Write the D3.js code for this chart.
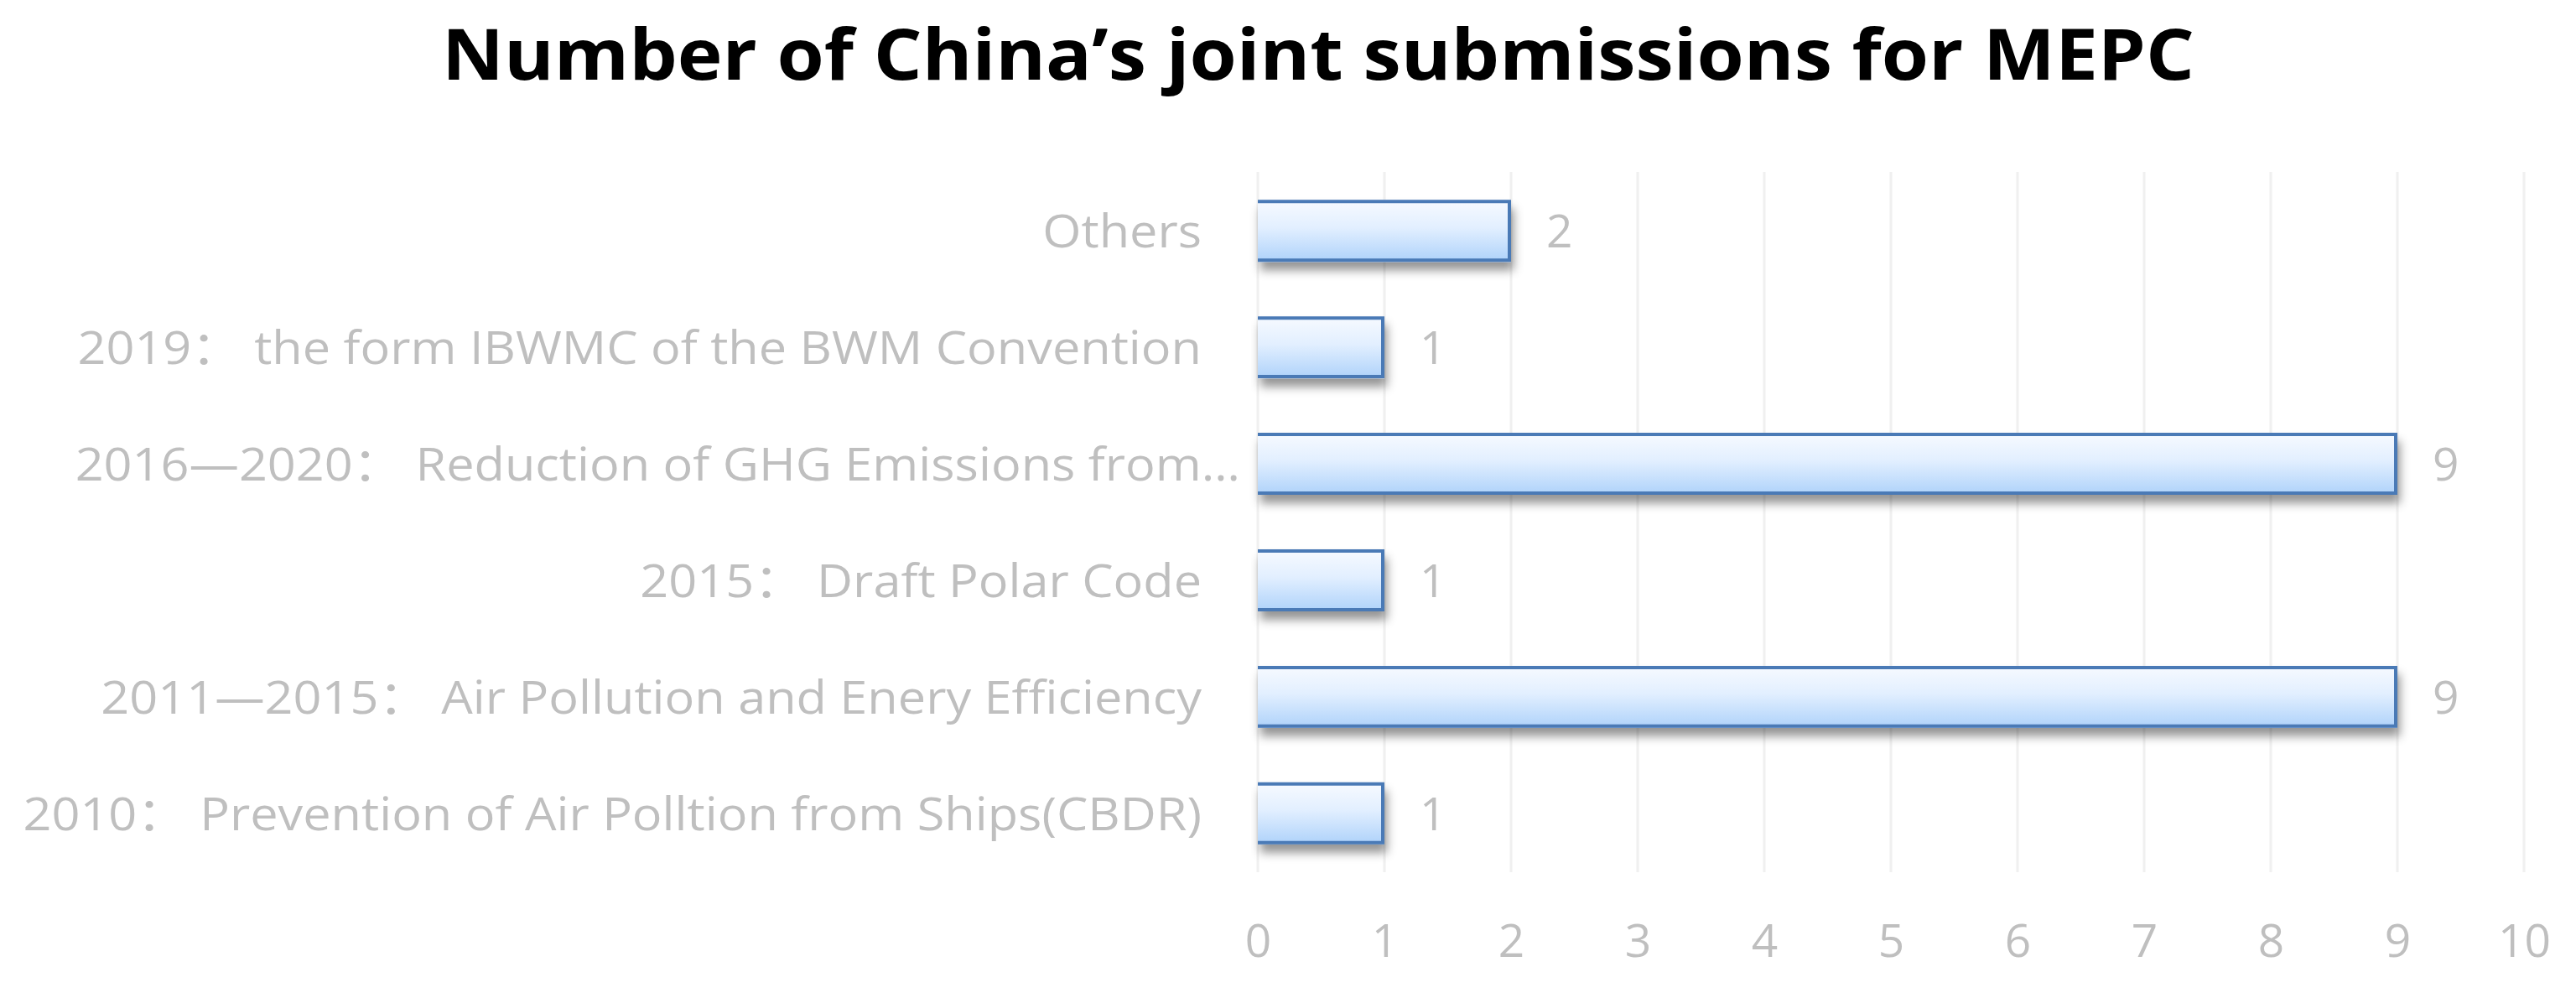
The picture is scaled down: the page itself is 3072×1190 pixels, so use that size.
<!DOCTYPE html>
<html><head><meta charset="utf-8">
<script src="https://cdn.jsdelivr.net/npm/d3@7/dist/d3.min.js"></script>
<style>body{margin:0;background:#fff;} svg{display:block}</style>
</head><body>
<script>
const title = "Number of China’s joint submissions for MEPC";
const categories = [
  "Others",
  "2019： the form IBWMC of the BWM Convention",
  "2016—2020： Reduction of GHG Emissions from…",
  "2015： Draft Polar Code",
  "2011—2015： Air Pollution and Enery Efficiency",
  "2010： Prevention of Air Polltion from Ships(CBDR)"
];
const values = [2, 1, 9, 1, 9, 1];
const tickValues = [0, 1, 2, 3, 4, 5, 6, 7, 8, 9, 10];

const W = 3072, H = 1190;
const plot = {left: 1500, right: 3010, top: 205, bottom: 1040};
const fontFamily = "'Open Sans', 'Noto Sans CJK SC', sans-serif";
const textGray = "#bfbfbf";
const labelStretch = 1.08;

const svg = d3.select("body").append("svg").attr("width", W).attr("height", H);

const defs = svg.append("defs");
const grad = defs.append("linearGradient").attr("id", "barGrad")
  .attr("x1", 0).attr("y1", 0).attr("x2", 0).attr("y2", 1);
grad.append("stop").attr("offset", "0%").attr("stop-color", "#f7faff");
grad.append("stop").attr("offset", "45%").attr("stop-color", "#e2efff");
grad.append("stop").attr("offset", "100%").attr("stop-color", "#aed2fa");
const filt = defs.append("filter").attr("id", "shadow")
  .attr("x", "-5%").attr("y", "-30%").attr("width", "115%").attr("height", "190%");
filt.append("feDropShadow").attr("dx", 3).attr("dy", 10).attr("stdDeviation", 6)
  .attr("flood-color", "#000").attr("flood-opacity", 0.42);

const x = d3.scaleLinear().domain([0, 10]).range([plot.left, plot.right]);
const y = d3.scaleBand().domain(categories).range([plot.top, plot.bottom])
  .paddingInner(0.468).paddingOuter(0.24);

// title
svg.append("text")
  .attr("x", (527 + 2617) / 2).attr("y", 95)
  .attr("text-anchor", "middle")
  .attr("font-family", fontFamily).attr("font-weight", 700)
  .attr("font-size", 84).attr("fill", "#000")
  .attr("textLength", 2090).attr("lengthAdjust", "spacingAndGlyphs")
  .text(title);

// gridlines
svg.append("g").selectAll("line").data(tickValues).join("line")
  .attr("x1", d => x(d)).attr("x2", d => x(d))
  .attr("y1", plot.top).attr("y2", plot.bottom)
  .attr("stroke", "#f0f0f0").attr("stroke-width", 3);

// x axis labels
const xAxis = d3.axisBottom(x).tickValues(tickValues).tickSize(0).tickPadding(0).tickFormat(d3.format("d"));
const gx = svg.append("g").attr("transform", `translate(0, 1141)`).call(xAxis);
gx.select(".domain").remove();
gx.selectAll("text")
  .attr("y", 0).attr("dy", 0)
  .attr("font-family", fontFamily).attr("font-size", 55).attr("fill", textGray);

// y axis labels
const yAxis = d3.axisLeft(y).tickSize(0).tickPadding(0);
const gy = svg.append("g").attr("transform", `translate(1433, 0)`).call(yAxis);
gy.select(".domain").remove();
gy.selectAll("text")
  .attr("x", d => d.endsWith("…") ? 46 : 0)
  .attr("dy", "0.36em")
  .attr("font-family", fontFamily).attr("font-size", 55).attr("fill", textGray)
  .each(function() {
    const w = this.getComputedTextLength();
    d3.select(this).attr("textLength", w * labelStretch).attr("lengthAdjust", "spacingAndGlyphs");
  });

// bars
const bars = svg.append("g").selectAll("g").data(categories).join("g");
const sw = 4;
bars.append("rect")
  .attr("x", x(0))
  .attr("y", d => y(d))
  .attr("width", (d, i) => x(values[i]) - x(0))
  .attr("height", y.bandwidth())
  .attr("fill", "url(#barGrad)")
  .attr("filter", "url(#shadow)");
bars.append("path")
  .attr("d", (d, i) => {
    const x0 = x(0), x1 = x(values[i]) - sw / 2;
    const t = y(d) + sw / 2, b = y(d) + y.bandwidth() - sw / 2;
    return `M${x0},${t}H${x1}V${b}H${x0}`;
  })
  .attr("fill", "none").attr("stroke", "#4a7ab6").attr("stroke-width", sw);

// value labels
bars.append("text")
  .attr("x", (d, i) => x(values[i]) + 42)
  .attr("y", d => y(d) + y.bandwidth() / 2)
  .attr("dy", "0.36em")
  .attr("font-family", fontFamily).attr("font-size", 55).attr("fill", textGray)
  .text((d, i) => values[i]);
</script>
</body></html>
